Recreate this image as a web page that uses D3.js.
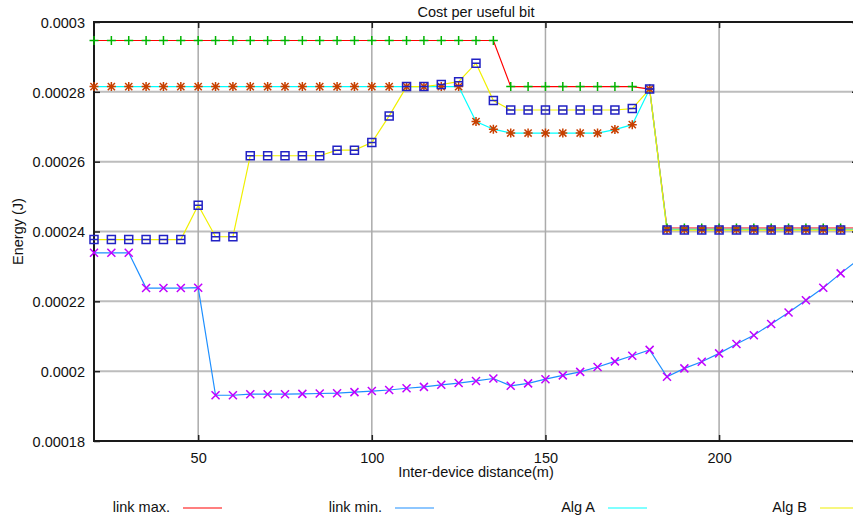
<!DOCTYPE html>
<html>
<head>
<meta charset="utf-8">
<script src="https://cdn.jsdelivr.net/npm/d3@7"></script>
<style>
  html, body { margin: 0; padding: 0; background: #fff; }
  svg { display: block; font-family: "Liberation Sans", Arial, Helvetica, sans-serif; }
</style>
</head>
<body>
<svg id="chart" width="853" height="519"></svg>
<script>
// Inter-device distance (m)
const distances = [20, 25, 30, 35, 40, 45, 50, 55, 60, 65, 70, 75, 80, 85, 90, 95, 100,
  105, 110, 115, 120, 125, 130, 135, 140, 145, 150, 155, 160, 165, 170, 175, 180,
  185, 190, 195, 200, 205, 210, 215, 220, 225, 230, 235, 240];

// Energy per useful bit (J)
const linkMax = [
  0.0002947, 0.0002947, 0.0002947, 0.0002947, 0.0002947, 0.0002947, 0.0002947, 0.0002947,
  0.0002947, 0.0002947, 0.0002947, 0.0002947, 0.0002947, 0.0002947, 0.0002947, 0.0002947,
  0.0002947, 0.0002947, 0.0002947, 0.0002947, 0.0002947, 0.0002947, 0.0002947, 0.0002947,
  0.0002815, 0.0002815, 0.0002815, 0.0002815, 0.0002815, 0.0002815, 0.0002815, 0.0002815,
  0.0002808,
  0.000241, 0.000241, 0.000241, 0.000241, 0.000241, 0.000241, 0.000241, 0.000241,
  0.000241, 0.000241, 0.000241, 0.000241];

const linkMin = [
  0.0002339, 0.0002339, 0.0002339, 0.0002238, 0.0002238, 0.0002238, 0.0002239,
  0.0001931, 0.0001931, 0.0001934, 0.0001934, 0.0001934, 0.0001935, 0.0001936, 0.0001937,
  0.000194, 0.0001943, 0.0001946, 0.0001951, 0.0001955, 0.0001961, 0.0001966, 0.0001972,
  0.0001979, 0.0001958, 0.0001965, 0.0001977, 0.0001988, 0.0001998, 0.0002012, 0.0002028,
  0.0002044, 0.0002061, 0.0001984, 0.0002008, 0.0002027, 0.0002051, 0.0002078, 0.0002103,
  0.0002135, 0.0002168, 0.0002203, 0.0002239, 0.000228, 0.0002319];

const algA = [
  0.0002815, 0.0002815, 0.0002815, 0.0002815, 0.0002815, 0.0002815, 0.0002815, 0.0002815,
  0.0002815, 0.0002815, 0.0002815, 0.0002815, 0.0002815, 0.0002815, 0.0002815, 0.0002815,
  0.0002815, 0.0002815, 0.0002815, 0.0002815, 0.0002815, 0.0002815,
  0.0002715, 0.0002693,
  0.0002682, 0.0002682, 0.0002682, 0.0002682, 0.0002682, 0.0002682,
  0.0002692, 0.0002706, 0.0002808,
  0.0002406, 0.0002406, 0.0002406, 0.0002406, 0.0002406, 0.0002406, 0.0002406, 0.0002406,
  0.0002406, 0.0002406, 0.0002406, 0.0002406];

const algB = [
  0.0002377, 0.0002377, 0.0002377, 0.0002377, 0.0002377, 0.0002377,
  0.0002475, 0.0002385, 0.0002385,
  0.0002617, 0.0002617, 0.0002617, 0.0002617, 0.0002617,
  0.0002633, 0.0002633, 0.0002655, 0.0002731, 0.0002815, 0.0002815, 0.0002821, 0.0002829,
  0.0002882, 0.0002775,
  0.0002748, 0.0002748, 0.0002748, 0.0002748, 0.0002748, 0.0002748, 0.0002748,
  0.0002752, 0.0002808,
  0.0002404, 0.0002404, 0.0002404, 0.0002404, 0.0002404, 0.0002404, 0.0002404, 0.0002404,
  0.0002404, 0.0002404, 0.0002404, 0.0002404];

const xTicks = [50, 100, 150, 200];
const yTicks = [0.00018, 0.0002, 0.00022, 0.00024, 0.00026, 0.00028, 0.0003];
const yTickLabels = ["0.00018", "0.0002", "0.00022", "0.00024", "0.00026", "0.00028", "0.0003"];

const seriesNames = ["link max.", "link min.", "Alg A", "Alg B"];
const lineColors = ["#ff0000", "#1e8fff", "#00ffff", "#f0f000"];
const markerColors = ["#00b400", "#c000ff", "#c84000", "#2222c4"];
const markerKinds = ["plus", "cross", "star", "box"];
const seriesValues = [linkMax, linkMin, algA, algB];

const svg = d3.select("#chart");
const plotLeft = 94, plotTop = 22, plotRight = 858, plotBottom = 441;
const fontSize = "14.5px";

const x = d3.scaleLinear().domain([20, 240]).range([plotLeft, plotRight]);
const y = d3.scaleLinear().domain([0.00018, 0.0003]).range([plotBottom, plotTop]);

svg.append("rect").attr("width", 853).attr("height", 519).attr("fill", "#fff");

// grid
const grid = svg.append("g");
grid.selectAll("line.h").data(yTicks.slice(1, -1)).join("line")
  .attr("class", "h")
  .attr("x1", plotLeft).attr("x2", plotRight)
  .attr("y1", d => y(d)).attr("y2", d => y(d))
  .attr("stroke", "#bdbdbd").attr("stroke-width", 2);
grid.selectAll("line.v").data(xTicks).join("line")
  .attr("class", "v")
  .attr("y1", plotTop).attr("y2", plotBottom)
  .attr("x1", d => x(d)).attr("x2", d => x(d))
  .attr("stroke", "#ababab").attr("stroke-width", 1.5);

// axes: ticks point inward
const axisStyle = g => {
  g.select(".domain").remove();
  g.selectAll(".tick line").attr("stroke", "#222").attr("stroke-width", 1.5);
  g.selectAll(".tick text").attr("fill", "#111").style("font-size", fontSize)
    .style("font-family", "'Liberation Sans', Arial, sans-serif");
};

svg.append("g").attr("transform", `translate(${plotLeft},0)`)
  .call(d3.axisLeft(y).tickValues(yTicks).tickSize(-6).tickPadding(9)
    .tickFormat((d, i) => yTickLabels[i]))
  .call(axisStyle)
  .selectAll(".tick text").attr("dy", "0.36em");

svg.append("g").attr("transform", `translate(0,${plotBottom})`)
  .call(d3.axisBottom(x).tickValues(xTicks).tickSize(-6).tickPadding(11.5))
  .call(axisStyle);

svg.append("g").attr("transform", `translate(0,${plotTop})`)
  .call(d3.axisTop(x).tickValues(xTicks).tickSize(-6).tickFormat(""))
  .call(axisStyle);

svg.append("g").attr("transform", `translate(${plotRight},0)`)
  .call(d3.axisRight(y).tickValues(yTicks).tickSize(-6).tickFormat(""))
  .call(axisStyle);

// frame
svg.append("rect")
  .attr("x", plotLeft).attr("y", plotTop)
  .attr("width", plotRight - plotLeft).attr("height", plotBottom - plotTop)
  .attr("fill", "none").attr("stroke", "#1a1a1a").attr("stroke-width", 2);

// series lines
const line = d3.line().x((d, i) => x(distances[i])).y(d => y(d));
const plot = svg.append("g");
seriesValues.forEach((vals, s) => {
  plot.append("path").datum(vals)
    .attr("d", line)
    .attr("fill", "none")
    .attr("stroke", lineColors[s])
    .attr("stroke-width", 1.2);
});

// point markers
const markerPath = {
  plus: "M-4.5,0H4.5M0,-4.5V4.5",
  cross: "M-4,-4L4,4M-4,4L4,-4",
  star: "M-4.5,0H4.5M0,-4.5V4.5M-3.6,-3.6L3.6,3.6M-3.6,3.6L3.6,-3.6",
  box: "M-4,-4H4V4H-4ZM-4,0H4"
};
seriesValues.forEach((vals, s) => {
  plot.append("g").selectAll("path").data(vals).join("path")
    .attr("transform", (d, i) => `translate(${x(distances[i])},${y(d)})`)
    .attr("d", markerPath[markerKinds[s]])
    .attr("fill", "none")
    .attr("stroke", markerColors[s])
    .attr("stroke-width", 1.5);
});

// titles
svg.append("text").attr("x", (plotLeft + plotRight) / 2).attr("y", 17)
  .attr("text-anchor", "middle").style("font-size", fontSize).attr("fill", "#111")
  .text("Cost per useful bit");
svg.append("text").attr("x", (plotLeft + plotRight) / 2).attr("y", 477)
  .attr("text-anchor", "middle").style("font-size", fontSize).attr("fill", "#111")
  .text("Inter-device distance(m)");
svg.append("text")
  .attr("transform", `translate(23,${(plotTop + plotBottom) / 2}) rotate(-90)`)
  .attr("text-anchor", "middle").style("font-size", fontSize).attr("fill", "#111")
  .text("Energy (J)");

// legend
const legendX = [183, 395, 608, 820];
const legend = svg.append("g");
seriesNames.forEach((name, s) => {
  legend.append("text").attr("x", legendX[s] - 13).attr("y", 512)
    .attr("text-anchor", "end").style("font-size", fontSize).attr("fill", "#111")
    .text(name);
  legend.append("line")
    .attr("x1", legendX[s]).attr("x2", legendX[s] + 39)
    .attr("y1", 508).attr("y2", 508)
    .attr("stroke", lineColors[s]).attr("stroke-width", 1.2);
});
</script>
</body>
</html>
